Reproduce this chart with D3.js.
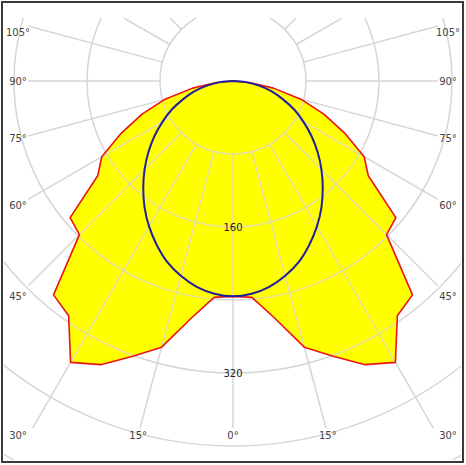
<!DOCTYPE html>
<html><head><meta charset="utf-8">
<script src="https://cdn.jsdelivr.net/npm/d3@7"></script>
<style>html,body{margin:0;padding:0;background:#fff;} svg{display:block}</style>
</head><body>
<svg id="chart" width="466" height="465"></svg>
<script>
// ---- data (luminous intensity, cd/klm) ----
const gammaAngles   = [0, 5, 10, 15, 20, 25, 30, 35, 40, 45, 50, 55, 60, 65, 70, 75, 80, 85, 90];
const planeC0C180   = [236, 238, 264, 302, 321, 343, 356, 314, 306, 238, 233, 181, 166, 135, 106, 77, 45, 18, 0];
const planeC90C270  = [236, 234, 229, 221, 211, 198, 184, 169, 153, 137, 121, 105, 89, 74, 58, 44, 29, 14, 0];
const ringValues      = [80, 160, 240, 320, 400, 480];
const ringLabelValues = [160, 320];
const angleTickLabels = [0, 15, 30, 45, 60, 75, 90, 105];
const gridAngles      = d3.range(0, 360, 15);

// ---- layout ----
const W = 466, H = 465, cx = 233, cy = 81;
const rScale = d3.scaleLinear().domain([0, 80]).range([0, 73]);
const toRad = d => d * Math.PI / 180;
const FONT = "'DejaVu Sans', Verdana, sans-serif";

const svg = d3.select('#chart');
svg.append('rect').attr('width', W).attr('height', H).attr('fill', '#fff');

function curvePoints(values) {
  const left = gammaAngles.map((g, i) => ({a: Math.PI + toRad(g), r: rScale(values[i])})).reverse();
  const right = gammaAngles.slice(1).map((g, i) => ({a: Math.PI - toRad(g), r: rScale(values[i + 1])}));
  return left.concat(right);
}
const redPts = curvePoints(planeC0C180);
const redPath = d3.lineRadial().angle(d => d.a).radius(d => d.r).curve(d3.curveLinearClosed)(redPts);

const defs = svg.append('defs');
defs.append('clipPath').attr('id', 'ringClip')
  .append('rect').attr('x', 4).attr('y', 18).attr('width', 457).attr('height', 442);
defs.append('clipPath').attr('id', 'fillClip')
  .append('path').attr('transform', `translate(${cx},${cy})`).attr('d', redPath);

const box = {x0: 28, x1: 438, y0: 18, y1: 428};
const r1 = rScale(ringValues[0]);

function drawGrid(parent, color) {
  const grid = parent.append('g').attr('transform', `translate(${cx},${cy})`)
    .attr('stroke', color).attr('fill', 'none').attr('stroke-width', 1.5);
  grid.selectAll('circle.ring').data(ringValues).enter().append('circle')
    .attr('class', 'ring').attr('r', d => rScale(d));
  gridAngles.forEach(deg => {
    const dx = Math.sin(toRad(deg)), dy = Math.cos(toRad(deg));
    const ts = [];
    if (dx > 1e-9) ts.push((box.x1 - cx) / dx);
    if (dx < -1e-9) ts.push((box.x0 - cx) / dx);
    if (dy > 1e-9) ts.push((box.y1 - cy) / dy);
    if (dy < -1e-9) ts.push((box.y0 - cy) / dy);
    const t = Math.min(...ts);
    if (t > r1) {
      grid.append('line')
        .attr('x1', r1 * dx).attr('y1', r1 * dy)
        .attr('x2', t * dx).attr('y2', t * dy);
    }
  });
}

// grid on white
drawGrid(svg.append('g').attr('clip-path', 'url(#ringClip)'), '#d6d6d6');

// yellow fill of the outer (C0/C180) curve
svg.append('path').attr('transform', `translate(${cx},${cy})`)
  .attr('d', redPath).attr('fill', '#ffff00').attr('stroke', 'none');

// grid seen over the yellow
drawGrid(svg.append('g').attr('clip-path', 'url(#fillClip)'), '#e6df9e');

// angle labels
const labelG = svg.append('g').attr('font-family', FONT).attr('font-size', 10)
  .attr('fill', '#444').attr('text-anchor', 'middle');
angleTickLabels.forEach(deg => {
  const sides = deg === 0 ? [1] : [-1, 1];
  sides.forEach(side => {
    const a = toRad(deg);
    let x, y;
    if (deg >= 30) {
      x = side < 0 ? 18 : 448;
      const t = Math.abs(x - cx) / Math.sin(a);
      y = Math.max(32, Math.min(435, cy + t * Math.cos(a)));
    } else {
      y = 435;
      const t = (y - cy) / Math.cos(a);
      x = cx + side * t * Math.sin(a);
    }
    labelG.append('text').attr('x', x).attr('y', y).attr('dy', '0.36em').text(deg + '°');
  });
});

// ring value labels
labelG.selectAll('text.ringlab').data(ringLabelValues).enter().append('text')
  .attr('class', 'ringlab').attr('x', cx).attr('y', d => cy + rScale(d)).attr('dy', '0.36em')
  .attr('fill', '#222').text(d => d);

const plot = svg.append('g').attr('transform', `translate(${cx},${cy})`);
// red outline
plot.append('path').attr('d', redPath)
  .attr('fill', 'none').attr('stroke', '#e8141a').attr('stroke-width', 1.6).attr('stroke-linejoin', 'round');

// blue outline (C90/C270)
const bluePts = curvePoints(planeC90C270);
plot.append('path')
  .attr('d', d3.lineRadial().angle(d => d.a).radius(d => d.r).curve(d3.curveCatmullRom)(bluePts))
  .attr('fill', 'none').attr('stroke', '#20209a').attr('stroke-width', 2);

// frame
svg.append('rect').attr('x', 2).attr('y', 2).attr('width', 461).attr('height', 460)
  .attr('fill', 'none').attr('stroke', '#3a3a3a').attr('stroke-width', 2);
</script>
</body></html>
